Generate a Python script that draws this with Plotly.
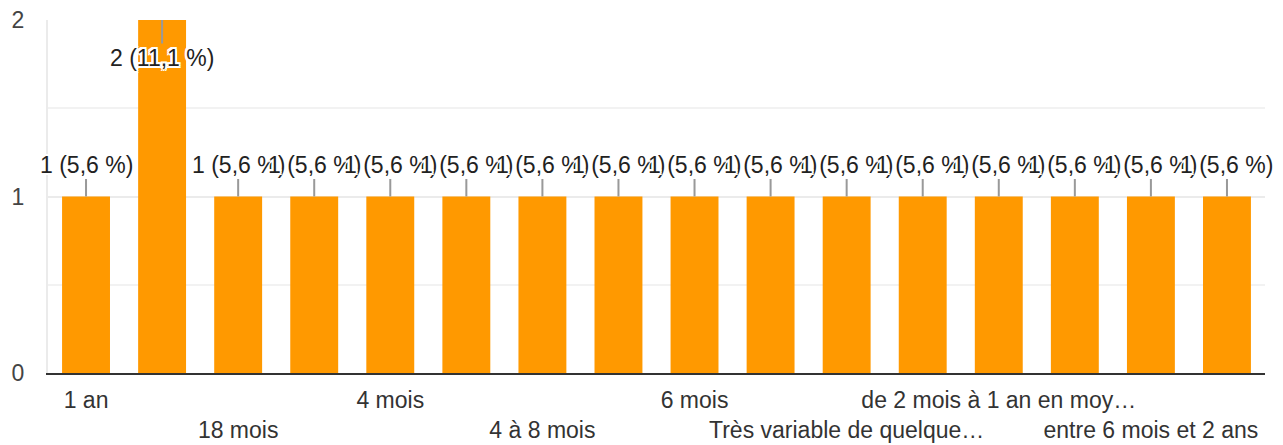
import plotly.graph_objects as go

categories = [
    "1 an", "1 à 2 ans", "18 mois", "2 ans", "4 mois", "4 à 6 mois",
    "4 à 8 mois", "5 mois", "6 mois", "6 mois à 1 an",
    "Très variable de quelque…", "Variable",
    "de 2 mois à 1 an en moy…", "de 6 mois à 1 an",
    "entre 6 mois et 2 ans", "environ 1 an",
]
values = [1, 2, 1, 1, 1, 1, 1, 1, 1, 1, 1, 1, 1, 1, 1, 1]
total_responses = 18
y_ticks = [0, 1, 2]

FONT = "Liberation Sans, Arial, sans-serif"
BAR = "#ff9900"
FS = 23

fig = go.Figure(go.Bar(
    x=categories, y=values, marker=dict(color=BAR, line=dict(width=0)),
    hoverinfo="skip",
))

halo = ("-2px -2px 0 #fff, 2px -2px 0 #fff, -2px 2px 0 #fff, 2px 2px 0 #fff, "
        "0 -2px 0 #fff, 0 2px 0 #fff, -2px 0 0 #fff, 2px 0 0 #fff")
vmax = max(values)
for c, v in zip(categories, values):
    pct = f"{v / total_responses * 100:.1f}".replace(".", ",")
    fig.add_annotation(
        x=c, y=v, xref="x", yref="y",
        text=f"{v} ({pct} %)",
        showarrow=True, arrowhead=0, arrowwidth=2, arrowcolor="#999999",
        ax=0, ay=(38 if v == vmax else -32),
        font=dict(family=FONT, size=FS, color="#222222", shadow=halo),
    )

tickvals = categories[::2]
ticktext = [("<br>" if i % 2 else "") + t for i, t in enumerate(tickvals)]

fig.update_layout(
    width=1283, height=445,
    margin=dict(l=48, r=18, t=20, b=72, autoexpand=False),
    paper_bgcolor="white", plot_bgcolor="white",
    bargap=0.37, showlegend=False,
    font=dict(family=FONT, size=FS, color="#333333"),
    xaxis=dict(
        type="category", range=[-0.5, len(categories) - 0.5],
        tickvals=tickvals, ticktext=ticktext, tickangle=0, automargin=False,
        showgrid=False, showline=True, linecolor="#333333", linewidth=2,
        ticks="", ticklabelstandoff=5, tickfont=dict(size=FS, color="#333333"),
        fixedrange=True,
    ),
    yaxis=dict(
        range=[0, 2], tickvals=y_ticks, ticktext=[str(t) for t in y_ticks],
        automargin=False,
        showgrid=True, gridcolor="#ebebeb", gridwidth=2,
        minor=dict(dtick=0.5, showgrid=True, gridcolor="#f2f2f2", gridwidth=2),
        zeroline=False, showline=True, linecolor="#ebebeb", linewidth=2,
        ticks="", ticklabelstandoff=17, tickfont=dict(size=FS, color="#444444"),
        fixedrange=True,
    ),
)

fig.write_html(
    "out.html",
    config={"displayModeBar": False},
    post_script="document.body.style.margin='0';document.body.style.overflow='hidden';",
)
